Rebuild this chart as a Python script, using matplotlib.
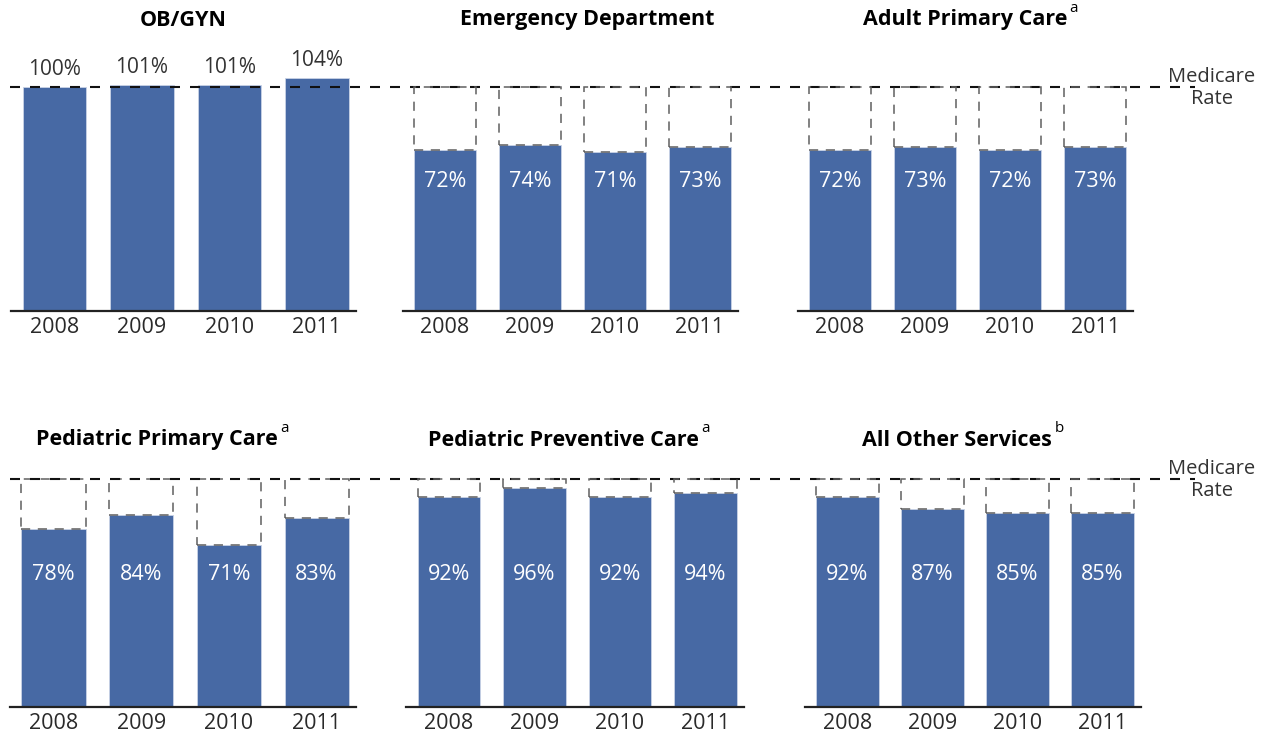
import matplotlib.pyplot as plt
from matplotlib.patches import Rectangle
from matplotlib.transforms import blended_transform_factory

plt.rcParams['font.family'] = ['Open Sans', 'DejaVu Sans']

# === Data ===
years = ["2008", "2009", "2010", "2011"]
titles = ["OB/GYN", "Emergency Department", "Adult Primary Care",
          "Pediatric Primary Care", "Pediatric Preventive Care", "All Other Services"]
notes = ["", "", "a", "a", "a", "b"]
ob_gyn = [100, 101, 101, 104]
emergency = [72, 74, 71, 73]
adult_primary = [72, 73, 72, 73]
ped_primary = [78, 84, 71, 83]
ped_preventive = [92, 96, 92, 94]
all_other = [92, 87, 85, 85]
series = [ob_gyn, emergency, adult_primary, ped_primary, ped_preventive, all_other]

W, H = 1267, 734
BAR = "#4769A4"

fig = plt.figure(figsize=(W / 100, H / 100), dpi=100)

# panel layout in pixels: (first bar center, spacing, baseline y, 100% y)
layout = [
    (54.5, 87.5, 311, 87), (445, 85, 311, 87), (840, 85, 311, 87),
    (53.5, 87.7, 707, 479), (449, 85.5, 707, 479), (847.5, 85, 707, 479),
]
title_pos = [(183, 20), (587, 20), (965, 20), (157, 440), (563, 440), (957, 440)]

def px_axes(x0, y_top, x1, y_bot):
    return fig.add_axes([x0 / W, 1 - y_bot / H, (x1 - x0) / W, (y_bot - y_top) / H])

axes = []
for i, vals in enumerate(series):
    c0, sp, yb, y100 = layout[i]
    left = c0 - 0.5 * sp
    right = left + 3.95 * sp
    scale = (yb - y100) / 100
    top = yb - 120 * scale
    ax = px_axes(left, top, right, yb)
    ax.patch.set_visible(False)
    ax.set_xlim(-0.5, 3.45)
    ax.set_ylim(0, 120)
    x = range(len(years))
    w = 0.73
    ax.bar(x, vals, width=w, color=BAR, edgecolor="#c9d3e6", linewidth=0.6, zorder=2)
    for xi, v in zip(x, vals):
        if v < 100:
            ax.add_patch(Rectangle((xi - w / 2, v), w, 100 - v, fill=False,
                                   edgecolor="#5f5f5f", linewidth=1.1,
                                   linestyle=(0, (6, 5)), zorder=3))
        if i == 0:
            ax.text(xi, v + 3, f"{v}%", ha="center", va="bottom",
                    color="#333333", fontsize=15)
        else:
            ax.text(xi, 58, f"{v}%", ha="center", va="center",
                    color="white", fontsize=15.5, zorder=4)
    for s in ["top", "right", "left"]:
        ax.spines[s].set_visible(False)
    ax.spines["bottom"].set_linewidth(1.6)
    ax.spines["bottom"].set_color("#222222")
    ax.set_yticks([])
    ax.set_xticks(list(x))
    ax.set_xticklabels(years, fontsize=15.5, color="#2a2a2a")
    ax.tick_params(axis="x", length=0, pad=4)
    axes.append(ax)

    tx, ty = title_pos[i]
    t = fig.text(tx / W, 1 - ty / H, titles[i], ha="center", va="center",
                 fontsize=15.5, fontweight="bold")
    if notes[i]:
        fig.canvas.draw()
        bb = t.get_window_extent()
        fig.text(bb.x1 / W + 0.002, bb.y1 / H + 0.002, notes[i], ha="left",
                 va="center", fontsize=11)

# === Medicare rate dashed lines ===
for ax in [axes[0], axes[3]]:
    tr = blended_transform_factory(fig.transFigure, ax.transData)
    ax.plot([10 / W, 1195 / W], [100, 100], transform=tr, clip_on=False,
            color="#111111", linewidth=1.5, linestyle=(0, (4.8, 4.8)), zorder=5)

fig.text(1212 / W, 1 - 88 / H, "Medicare\nRate", ha="center", va="center",
         fontsize=14.5, color="#333333", linespacing=1.1)
fig.text(1212 / W, 1 - 480 / H, "Medicare\nRate", ha="center", va="center",
         fontsize=14.5, color="#333333", linespacing=1.1)

fig.savefig("out.png", dpi=100)
